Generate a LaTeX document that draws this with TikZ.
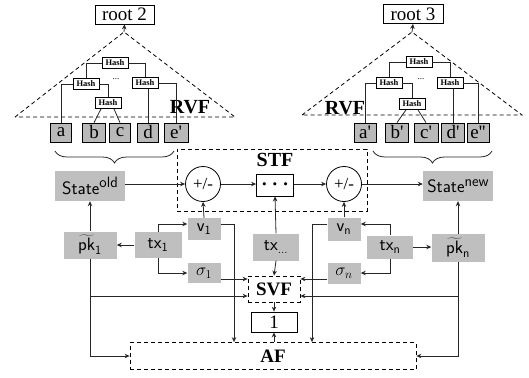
\documentclass[tikz,border=0pt]{standalone}
\usepackage{fontspec}
\setmainfont{Liberation Serif}
\usetikzlibrary{arrows.meta,decorations.pathreplacing}
\newcommand\fsz[1]{\fontsize{#1}{#1}\selectfont}
\newcommand\supx[1]{\raisebox{6.5pt}{\fsz{15}#1}}
\newcommand\qs{\textquotesingle}
\begin{document}
\begin{tikzpicture}[x=1pt,y=-1pt,
 ln/.style={draw=black!85, line width=0.8pt},
 arr/.style={ln, -{Stealth[length=5pt,width=4.5pt]}},
 hashbox/.style={draw, fill=white, line width=0.8pt, inner sep=0, minimum width=26pt, minimum height=11pt, font=\bfseries\fsz{8.5}},
 leaf/.style={draw, fill=gray!55, line width=0.8pt, inner sep=0, minimum width=21pt, minimum height=19pt, font=\fsz{19}},
 gbox/.style={fill=gray!50, inner sep=0, font=\sffamily\fsz{18}},
 dbox/.style={draw, dash pattern=on 4pt off 3pt, line width=0.8pt, inner sep=0},
 tri/.style={draw, dash pattern=on 4pt off 3pt, line width=0.8pt},
 lbl/.style={font=\bfseries\fsz{20}, inner sep=0},
 rootbox/.style={draw, line width=0.8pt, inner sep=0, minimum height=19pt, font=\fsz{19}},
 circ/.style={draw, circle, line width=0.8pt, inner sep=0, minimum size=35pt, font=\fsz{17}},
 brc/.style={ln, decorate, decoration={brace, mirror, amplitude=12pt}},
]
\useasboundingbox (0,0) rectangle (529,377);

% ---------- left tree ----------
\node[rootbox, minimum width=59pt] (root2) at (124.5,14.5) {root 2};
\coordinate (apex2) at (124,32);
\draw[tri] (15,117) -- (apex2) -- (235,117) -- cycle;
\draw[arr] (apex2) -- (root2.south);
\node[lbl] (rvf2) at (190,107) {RVF};
\node[hashbox] (h2t) at (115,63) {Hash};
\node[hashbox] (h2l) at (86,84) {Hash};
\node[hashbox] (h2r) at (145,83) {Hash};
\node[hashbox] (h2w) at (108,103) {Hash};
\node[font=\fsz{9}, inner sep=0] (dots2) at (116,79) {...};
\node[leaf] (la) at (61,132.5) {a};
\node[leaf, minimum width=23pt] (lb) at (94,132.5) {b};
\node[leaf] (lc) at (120,132.5) {c};
\node[leaf] (ld) at (148,132.5) {d};
\node[leaf, minimum width=24pt] (le) at (176,132.5) {e\qs};
\draw[ln] (h2t.west) -| (h2l.north);
\draw[ln] (h2t.east) -| (h2r.north);
\draw[ln] (h2l.west) -| (la.north);
\draw[ln] (h2l.east) -| (h2w.north);
\draw[ln] ([xshift=-7pt]h2w.south) -- (lb.north);
\draw[ln] ([xshift=6pt]h2w.south) -- (lc.north);
\draw[ln] (ld.north |- h2r.south) -- (ld.north);
\draw[ln] (h2r.east) -| (le.north);
\draw[brc] (55,151) -- (174,151);

% ---------- right tree ----------
\node[rootbox, minimum width=60pt] (root3) at (413,14) {root 3};
\coordinate (apex3) at (412,32);
\draw[tri] (302,115) -- (apex3) -- (522,115) -- cycle;
\draw[arr] (apex3) -- (root3.south);
\node[lbl] (rvf3) at (345,108) {RVF};
\node[hashbox] (h3t) at (419,62) {Hash};
\node[hashbox] (h3l) at (389,83) {Hash};
\node[hashbox] (h3r) at (450,83) {Hash};
\node[hashbox] (h3w) at (412,104) {Hash};
\node[font=\fsz{9}, inner sep=0] (dots3) at (421,79) {...};
\node[leaf, minimum width=22pt] (ra) at (365,132.5) {a\qs};
\node[leaf, minimum width=23pt] (rb) at (397,132.5) {b\qs};
\node[leaf, minimum width=24pt] (rc) at (426,132.5) {c\qs};
\node[leaf, minimum width=23pt] (rd) at (453,132.5) {d\qs};
\node[leaf, minimum width=22pt] (re) at (478,132.5) {e\qs\qs};
\draw[ln] (h3t.west) -| (h3l.north);
\draw[ln] (h3t.east) -| (h3r.north);
\draw[ln] (h3l.west) -| (ra.north);
\draw[ln] (h3l.east) -| (h3w.north);
\draw[ln] ([xshift=-6pt]h3w.south) -- (rb.north);
\draw[ln] ([xshift=6pt]h3w.south) -- (rc.north);
\draw[ln] (rd.north |- h3r.south) -- (rd.north);
\draw[ln] (h3r.east) -| (re.north);
\draw[brc] (373,151) -- (492,151);

% ---------- states and STF ----------
\node[gbox, minimum width=70pt, minimum height=30pt] (stold) at (90,186) {State\supx{old}};
\node[gbox, minimum width=70pt, minimum height=30pt] (stnew) at (458,186) {State\supx{new}};
\node[dbox, minimum width=190pt, minimum height=62pt] (stf) at (272,180) {};
\node[lbl] (stflbl) at (275,160) {STF};
\node[circ] (c1) at (203,184) {+/-};
\node[circ] (c2) at (344,184) {+/-};
\node[draw, line width=0.8pt, inner sep=0, minimum width=37pt, minimum height=22pt, font=\fsz{22}\boldmath] (dots) at (275,185) {$\cdots$};
\draw[arr] (stold.east |- c1.west) -- (c1.west);
\draw[arr] (c1.east) -- (dots.west |- c1.east);
\draw[arr] (dots.east |- c2.west) -- (c2.west);
\draw[arr] (c2.east) -- (stnew.west |- c2.east);

% ---------- transactions ----------
\node[gbox, minimum width=33pt, minimum height=22pt] (v1) at (204,229) {$\mathsf{v}_{\mathsf{1}}$};
\node[gbox, minimum width=33pt, minimum height=23pt] (vn) at (344,229) {$\mathsf{v}_{\mathsf{n}}$};
\node[gbox, minimum width=46pt, minimum height=27pt] (txd) at (276,247) {$\mathsf{tx}_{\ldots}$};
\node[gbox, minimum width=47pt, minimum height=26pt] (tx1) at (158,245) {$\mathsf{tx}_{\mathsf{1}}$};
\node[gbox, minimum width=46pt, minimum height=23pt] (txn) at (390,247) {$\mathsf{tx}_{\mathsf{n}}$};
\node[gbox, minimum width=53pt, minimum height=27pt] (pk1) at (90,245) {$\widetilde{\mathsf{pk}}_{\mathsf{1}}$};
\node[gbox, minimum width=53pt, minimum height=28pt] (pkn) at (458,248) {$\widetilde{\mathsf{pk}}_{\mathsf{n}}$};
\node[gbox, minimum width=33pt, minimum height=20pt] (s1) at (204,273) {$\sigma_1$};
\node[gbox, minimum width=33pt, minimum height=21pt] (sn) at (344,273) {$\sigma_n$};
\node[dbox, minimum width=52pt, minimum height=26pt, font=\bfseries\fsz{19}] (svf) at (274,289) {SVF};
\node[draw, line width=0.8pt, inner sep=0, minimum width=46pt, minimum height=20pt, font=\fsz{19}] (one) at (274,322) {1};
\node[dbox, minimum width=286pt, minimum height=27pt, font=\bfseries\fsz{19}] (af) at (273,356) {AF};
\path (af.north) ++(-39,0) coordinate (afin1);
\path (af.north) ++(39,0) coordinate (afin2);

\draw[arr] (v1.north) -- (c1.south);
\draw[arr] (vn.north) -- (c2.south);
\draw[arr] (txd.north) -- (dots.south);
\draw[arr] (txd.south) -- (svf.north);
\draw[arr] (tx1.west) -- (pk1.east |- tx1.west);
\draw[arr] (pk1.north) -- (stold.south);
\draw[arr] (txn.east) -- (pkn.west |- txn.east);
\draw[arr] (pkn.north) -- (stnew.south);
\draw[arr] (tx1.north) |- ([yshift=5pt]v1.west);
\draw[arr] (tx1.south) |- (s1.west);
\draw[arr] (txn.north) |- ([yshift=5pt]vn.east);
\draw[arr] (txn.south) |- (sn.east);
\draw[arr] ([yshift=-6pt]s1.east) -- ([yshift=-6pt]s1.east -| svf.west);
\draw[arr] ([yshift=-6pt]sn.west) -- ([yshift=-6pt]sn.west -| svf.east);
\draw[arr] (pk1.south) |- ([yshift=-7pt]svf.west);
\draw[arr] (pk1.south) |- (af.west);
\draw[arr] (pkn.south) |- ([yshift=-7pt]svf.east);
\draw[arr] (pkn.south) |- (af.east);
\draw[arr] ([yshift=5pt]v1.east) -| (afin1);
\draw[arr] ([yshift=5pt]vn.west) -| (afin2);
\draw[arr] (svf.south) -- (one.north);
\draw[arr] (one.south |- af.north) -- (one.south);
\end{tikzpicture}
\end{document}
